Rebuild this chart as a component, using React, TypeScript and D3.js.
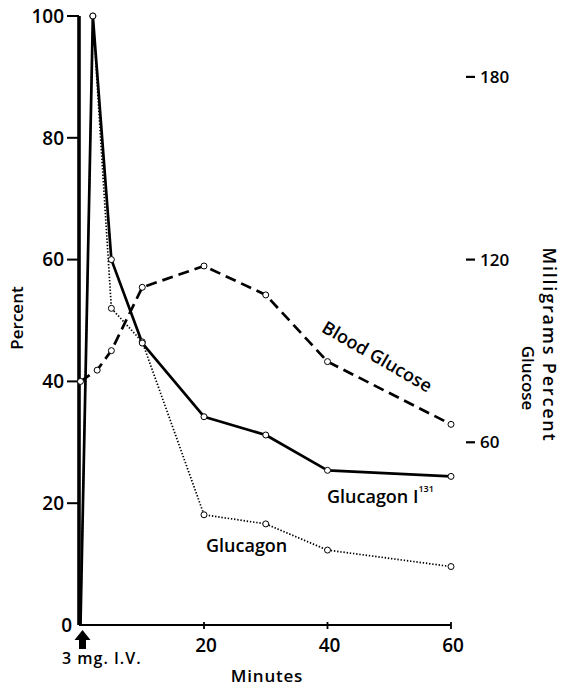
import React from "react";
import * as d3 from "d3";

const times = [0, 2, 5, 10, 20, 30, 40, 60];
const glucagonI131 = [0, 100, 60, 46.3, 34.2, 31.2, 25.4, 24.4];
const glucagon = [0, 100, 52, 46.5, 18.1, 16.6, 12.3, 9.6];
const bgTimes = [0, 2.7, 5, 10, 20, 30, 40, 60];
const bloodGlucose = [80, 83.7, 90.1, 110.9, 117.9, 108.4, 86.5, 65.9];
const leftTicks = [0, 20, 40, 60, 80, 100];
const bottomTicks = [20, 40, 60];
const rightTicks = [60, 120, 180];

const W = 563;
const H = 689;
const FONT = "'Open Sans', 'DejaVu Sans', sans-serif";

export default function App() {
  const x = d3.scaleLinear().domain([0, 60]).range([80.5, 451]);
  const y = d3.scaleLinear().domain([0, 100]).range([625, 16]);
  const yR = d3.scaleLinear().domain([0, 200]).range([625, 16]);

  const lineL = d3
    .line<[number, number]>()
    .x((d) => x(d[0]))
    .y((d) => y(d[1]));
  const lineR = d3
    .line<[number, number]>()
    .x((d) => x(d[0]))
    .y((d) => yR(d[1]));

  const solidPts: [number, number][] = times.map((t, i) => [t, glucagonI131[i]]);
  const dotPts: [number, number][] = times.map((t, i) => [t, glucagon[i]]);
  const dashPts: [number, number][] = bgTimes.map((t, i) => [t, bloodGlucose[i]]);

  const axisX = x(0) - 1.5;

  return (
    <svg
      width={W}
      height={H}
      style={{ position: "absolute", left: 0, top: 0, background: "#fff" }}
      fontFamily={FONT}
      fontWeight={600}
    >
      <rect width={W} height={H} fill="#fff" />
      {/* left axis */}
      <line x1={axisX} x2={axisX} y1={y(100)} y2={y(0)} stroke="#000" strokeWidth={3.6} />
      {leftTicks.map((v) => (
        <g key={v}>
          {v > 0 && (
            <line x1={axisX - 12} x2={axisX} y1={y(v)} y2={y(v)} stroke="#000" strokeWidth={2} />
          )}
          <text
            x={v === 0 ? 72 : axisX - 15}
            y={y(v)}
            dy="0.36em"
            textAnchor="end"
            fontSize={19}
            fill="#000"
          >
            {v}
          </text>
        </g>
      ))}
      {/* bottom axis */}
      <line x1={axisX} x2={x(60)} y1={y(0)} y2={y(0)} stroke="#000" strokeWidth={2.2} />
      {bottomTicks.map((v) => (
        <g key={v}>
          <line x1={x(v)} x2={x(v)} y1={y(0) - 3} y2={y(0) + 4} stroke="#000" strokeWidth={1.8} />
          <text x={x(v) + 2} y={y(0) + 27} textAnchor="middle" fontSize={19} fill="#000">
            {v}
          </text>
        </g>
      ))}
      {/* right ticks */}
      {rightTicks.map((v) => (
        <g key={v}>
          <line x1={466} x2={475} y1={yR(v)} y2={yR(v)} stroke="#000" strokeWidth={2.2} />
          <text x={480} y={yR(v)} dy="0.36em" fontSize={17} fill="#000">
            {v}
          </text>
        </g>
      ))}
      {/* series */}
      <path d={lineL(dotPts) || ""} fill="none" stroke="#000" strokeWidth={1.7} strokeDasharray="1.4,1.8" />
      <path d={lineL(solidPts) || ""} fill="none" stroke="#000" strokeWidth={2.7} strokeLinejoin="round" />
      <path d={lineR(dashPts) || ""} fill="none" stroke="#000" strokeWidth={2.7} strokeDasharray="11,6" />
      {dotPts.slice(1).map((d, i) => (
        <circle key={"d" + i} cx={x(d[0])} cy={y(d[1])} r={3} fill="#fff" stroke="#000" strokeWidth={1} />
      ))}
      {solidPts.slice(1).map((d, i) => (
        <circle key={"s" + i} cx={x(d[0])} cy={y(d[1])} r={3} fill="#fff" stroke="#000" strokeWidth={1} />
      ))}
      {dashPts.map((d, i) => (
        <circle key={"b" + i} cx={x(d[0])} cy={yR(d[1])} r={3} fill="#fff" stroke="#000" strokeWidth={1} />
      ))}
      {/* labels */}
      <text
        transform="translate(374,362) rotate(30)"
        textAnchor="middle"
        fontSize={18}
        fill="#000"
      >
        Blood Glucose
      </text>
      <text x={327} y={503} fontSize={18} fill="#000">
        Glucagon I
        <tspan dy={-11} fontSize={9}>131</tspan>
      </text>
      <text x={206} y={552} fontSize={18} fill="#000">
        Glucagon
      </text>
      <text transform="translate(23,318) rotate(-90)" textAnchor="middle" fontSize={17} fill="#000">
        Percent
      </text>
      <text
        transform="translate(543,345) rotate(90)"
        textAnchor="middle"
        fontSize={18}
        letterSpacing={1.8}
        fill="#000"
      >
        Milligrams Percent
      </text>
      <text transform="translate(522,378) rotate(90)" textAnchor="middle" fontSize={17} fill="#000">
        Glucose
      </text>
      <text x={267} y={682} textAnchor="middle" fontSize={17} letterSpacing={0.8} fill="#000">
        Minutes
      </text>
      <text x={62} y={664} fontSize={16} letterSpacing={1} fill="#000">
        3 mg. I.V.
      </text>
      {/* arrow */}
      <path
        d={`M${x(0) + 2},${y(0) + 5} L${x(0) + 10},${y(0) + 15} L${x(0) + 5.5},${y(0) + 15} L${x(0) + 5.5},${y(0) + 24} L${x(0) - 1.5},${y(0) + 24} L${x(0) - 1.5},${y(0) + 15} L${x(0) - 6},${y(0) + 15} Z`}
        fill="#000"
      />
    </svg>
  );
}
